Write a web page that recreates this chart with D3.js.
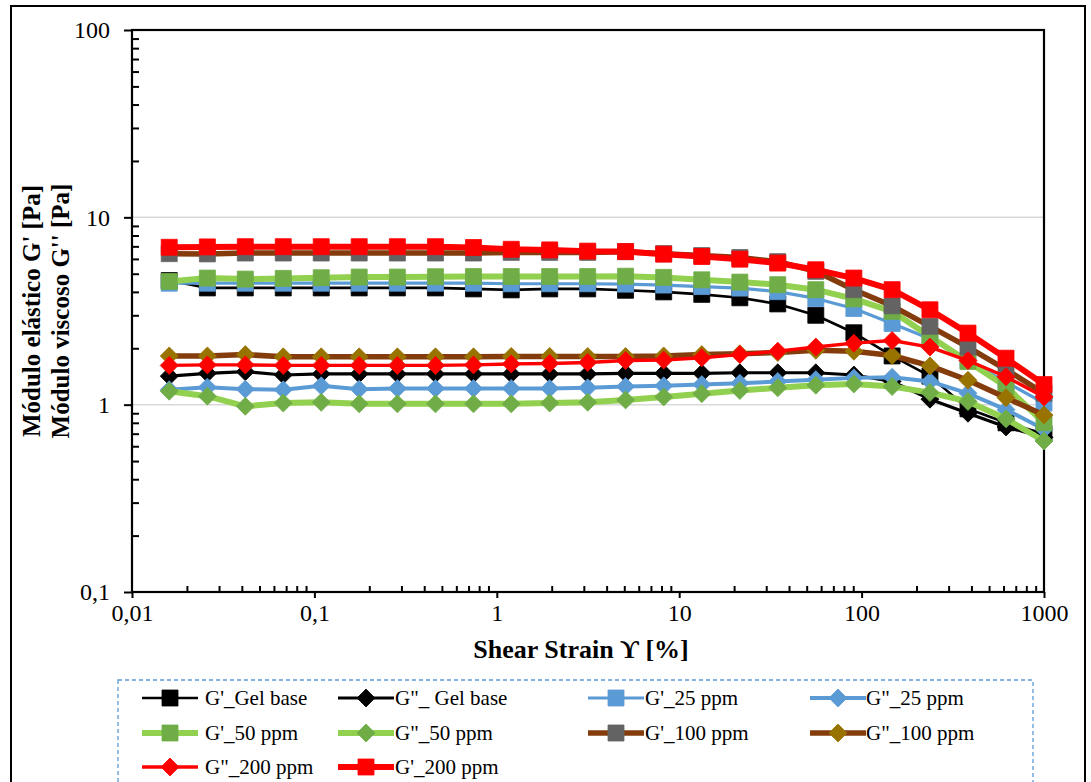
<!DOCTYPE html>
<html>
<head>
<meta charset="utf-8">
<script src="https://cdn.jsdelivr.net/npm/d3@7/dist/d3.min.js"></script>
<style>
  html, body { margin: 0; padding: 0; background: #fff; }
  svg { display: block; }
  text { font-family: "Liberation Serif", "Times New Roman", serif; fill: #000; }
</style>
</head>
<body>
<svg id="chart" width="1091" height="782"></svg>
<script>
// Shear strain sweep (%)
const strain = [0.016, 0.0259, 0.0418, 0.0675, 0.109, 0.176, 0.285, 0.461, 0.745, 1.2,
  1.95, 3.15, 5.08, 8.22, 13.3, 21.5, 34.7, 56.1, 90.7, 147, 237, 383, 619, 1000];

// Moduli (Pa)
const gpGel   = [4.6, 4.2, 4.2, 4.2, 4.2, 4.2, 4.2, 4.2, 4.15, 4.1, 4.15, 4.15,
  4.08, 4.0, 3.88, 3.72, 3.45, 3.0, 2.42, 1.82, 1.42, 0.95, 0.8, 0.7];
const gppGel  = [1.42, 1.47, 1.5, 1.44, 1.46, 1.46, 1.46, 1.46, 1.46, 1.46, 1.46, 1.46,
  1.47, 1.47, 1.47, 1.48, 1.48, 1.48, 1.44, 1.33, 1.07, 0.9, 0.76, 0.67];
const gp25    = [4.45, 4.45, 4.45, 4.45, 4.45, 4.45, 4.45, 4.45, 4.45, 4.42, 4.42, 4.42,
  4.4, 4.35, 4.27, 4.19, 4.01, 3.69, 3.26, 2.71, 2.25, 1.72, 1.32, 1.02];
const gpp25   = [1.2, 1.24, 1.21, 1.2, 1.26, 1.21, 1.22, 1.22, 1.22, 1.22, 1.22, 1.23,
  1.25, 1.26, 1.28, 1.3, 1.33, 1.36, 1.39, 1.4, 1.33, 1.15, 0.94, 0.74];
const gp50    = [4.55, 4.74, 4.68, 4.72, 4.76, 4.8, 4.8, 4.82, 4.83, 4.83, 4.83, 4.83,
  4.85, 4.78, 4.64, 4.51, 4.37, 4.11, 3.67, 3.15, 2.31, 1.7, 1.25, 0.8];
const gpp50   = [1.18, 1.11, 0.98, 1.02, 1.03, 1.01, 1.01, 1.01, 1.01, 1.01, 1.02, 1.03,
  1.06, 1.1, 1.145, 1.19, 1.23, 1.27, 1.29, 1.25, 1.16, 1.04, 0.84, 0.64];
const gp100   = [6.4, 6.38, 6.45, 6.45, 6.45, 6.45, 6.45, 6.45, 6.45, 6.5, 6.5, 6.5,
  6.55, 6.4, 6.25, 6.1, 5.8, 5.15, 4.11, 3.37, 2.62, 2.03, 1.54, 1.15];
const gpp100  = [1.82, 1.82, 1.85, 1.8, 1.8, 1.8, 1.8, 1.8, 1.8, 1.81, 1.81, 1.81,
  1.81, 1.82, 1.85, 1.87, 1.9, 1.95, 1.93, 1.83, 1.61, 1.35, 1.09, 0.88];
const gpp200  = [1.62, 1.63, 1.63, 1.62, 1.62, 1.62, 1.62, 1.62, 1.63, 1.65, 1.66, 1.68,
  1.72, 1.73, 1.78, 1.85, 1.93, 2.03, 2.13, 2.2, 2.03, 1.72, 1.41, 1.1];
const gp200   = [6.92, 6.95, 6.97, 6.97, 6.97, 6.97, 6.97, 6.97, 6.9, 6.75, 6.7, 6.6,
  6.57, 6.36, 6.18, 5.98, 5.7, 5.25, 4.74, 4.11, 3.21, 2.41, 1.77, 1.28];

const seriesNames = ["G'_Gel base", "G\"_ Gel base", "G'_25 ppm", "G\"_25 ppm",
  "G'_50 ppm", "G\"_50 ppm", "G'_100 ppm", "G\"_100 ppm", "G\"_200 ppm", "G'_200 ppm"];

const xTickValues = [0.01, 0.1, 1, 10, 100, 1000];
const xTickLabels = ["0,01", "0,1", "1", "10", "100", "1000"];
const yTickValues = [0.1, 1, 10, 100];
const yTickLabels = ["0,1", "1", "10", "100"];

// Series styling: line colour/width, marker shape/colour
const series = [
  { name: seriesNames[0], values: gpGel,  line: "#000000", lw: 2.6, shape: "square",  fill: "#000000" },
  { name: seriesNames[1], values: gppGel, line: "#000000", lw: 3.2, shape: "diamond", fill: "#000000" },
  { name: seriesNames[2], values: gp25,   line: "#5B9BD5", lw: 3.2, shape: "square",  fill: "#5B9BD5" },
  { name: seriesNames[3], values: gpp25,  line: "#5B9BD5", lw: 4,   shape: "diamond", fill: "#5B9BD5" },
  { name: seriesNames[4], values: gp50,   line: "#92D050", lw: 6,   shape: "square",  fill: "#70AD47" },
  { name: seriesNames[5], values: gpp50,  line: "#92D050", lw: 6,   shape: "diamond", fill: "#70AD47" },
  { name: seriesNames[6], values: gp100,  line: "#843C0C", lw: 5.5, shape: "square",  fill: "#636363" },
  { name: seriesNames[7], values: gpp100, line: "#843C0C", lw: 5.5, shape: "diamond", fill: "#997300" },
  { name: seriesNames[8], values: gpp200, line: "#FF0000", lw: 3.4, shape: "diamond", fill: "#FF0000" },
  { name: seriesNames[9], values: gp200,  line: "#FF0000", lw: 6,   shape: "square",  fill: "#FF0000" }
];

const svg = d3.select("#chart");
const plot = { left: 132, right: 1044, top: 30, bottom: 592 };

const x = d3.scaleLog().domain([0.01, 1000]).range([plot.left, plot.right]);
const y = d3.scaleLog().domain([0.1, 100]).range([plot.bottom, plot.top]);

// Outer chart frame
svg.append("rect")
  .attr("x", 11).attr("y", 6).attr("width", 1074).attr("height", 800)
  .attr("fill", "none").attr("stroke", "#000").attr("stroke-width", 2);

// Horizontal gridlines at the decades
svg.append("g").selectAll("line")
  .data([1, 10])
  .join("line")
  .attr("x1", plot.left).attr("x2", plot.right)
  .attr("y1", d => y(d)).attr("y2", d => y(d))
  .attr("stroke", "#D9D9D9").attr("stroke-width", 1.5);

// Minor tick values (2..9 within each decade)
const minorX = [];
for (let e = -2; e < 3; e++) for (let m = 2; m <= 9; m++) minorX.push(m * Math.pow(10, e));
const minorY = [];
for (let e = -1; e < 2; e++) for (let m = 2; m <= 9; m++) minorY.push(m * Math.pow(10, e));

// Y axis: major ticks outside, minor ticks inside
const yAxis = svg.append("g").attr("transform", `translate(${plot.left},0)`)
  .call(d3.axisLeft(y).tickValues(yTickValues).tickSizeInner(8).tickSizeOuter(0).tickPadding(14)
    .tickFormat((d, i) => yTickLabels[i]));
yAxis.select(".domain").remove();
yAxis.selectAll("line").attr("stroke-width", 2);
yAxis.selectAll("text").style("font-size", "24px").style("font-family", "Liberation Serif, serif");

const yMinor = svg.append("g").attr("transform", `translate(${plot.left},0)`)
  .call(d3.axisRight(y).tickValues(minorY).tickSize(7).tickFormat(""));
yMinor.select(".domain").remove();
yMinor.selectAll("line").attr("stroke-width", 2);

// X axis: major ticks below, minor ticks above
const xAxis = svg.append("g").attr("transform", `translate(0,${plot.bottom})`)
  .call(d3.axisBottom(x).tickValues(xTickValues).tickSizeInner(6).tickSizeOuter(0).tickPadding(6)
    .tickFormat((d, i) => xTickLabels[i]));
xAxis.select(".domain").remove();
xAxis.selectAll("line").attr("stroke-width", 2);
xAxis.selectAll("text").style("font-size", "24px").style("font-family", "Liberation Serif, serif");

const xMinor = svg.append("g").attr("transform", `translate(0,${plot.bottom})`)
  .call(d3.axisTop(x).tickValues(minorX).tickSize(6).tickFormat(""));
xMinor.select(".domain").remove();
xMinor.selectAll("line").attr("stroke-width", 2);

// Plot area border
svg.append("rect")
  .attr("x", plot.left).attr("y", plot.top)
  .attr("width", plot.right - plot.left).attr("height", plot.bottom - plot.top)
  .attr("fill", "none").attr("stroke", "#000").attr("stroke-width", 2.2);

// Marker paths
function markerPath(shape) {
  if (shape === "square") {
    const h = 8;
    return `M${-h},${-h}H${h}V${h}H${-h}Z`;
  }
  const r = 9;
  return `M0,${-r}L${r},0L0,${r}L${-r},0Z`;
}

const line = d3.line().x(d => x(d[0])).y(d => y(d[1]));

// Series drawn in legend order so later ones sit on top
series.forEach(s => {
  const pts = strain.map((v, i) => [v, s.values[i]]);
  const g = svg.append("g");
  g.append("path")
    .attr("d", line(pts))
    .attr("fill", "none")
    .attr("stroke", s.line)
    .attr("stroke-width", s.lw)
    .attr("stroke-linejoin", "round");
  g.selectAll("path.mk")
    .data(pts)
    .join("path")
    .attr("class", "mk")
    .attr("transform", d => `translate(${x(d[0])},${y(d[1])})`)
    .attr("d", markerPath(s.shape))
    .attr("fill", s.fill)
    .attr("stroke", s.fill)
    .attr("stroke-width", 0.8)
    .attr("stroke-linejoin", "round");
});

// Axis titles
svg.append("text")
  .attr("x", 581).attr("y", 658)
  .attr("text-anchor", "middle")
  .style("font-size", "26px").style("font-weight", "bold")
  .text("Shear Strain \u03D2 [%]");

const yTitle = svg.append("text")
  .attr("transform", "translate(0,311) rotate(-90)")
  .attr("text-anchor", "middle")
  .style("font-size", "25px").style("font-weight", "bold");
yTitle.append("tspan").attr("x", 0).attr("y", 40).text("Módulo elástico G' [Pa]");
yTitle.append("tspan").attr("x", 0).attr("y", 69).text("Módulo viscoso G'' [Pa]");

// Legend
svg.append("rect")
  .attr("x", 118).attr("y", 680).attr("width", 915).attr("height", 130)
  .attr("fill", "none").attr("stroke", "#5B9BD5").attr("stroke-width", 1.3)
  .attr("stroke-dasharray", "4,3");

const legLineStart = [142, 338, 588, 810];
const legTextX = [205, 395, 645, 866];
const legRowY = [698, 733, 767];
const legLen = 56;

series.forEach((s, i) => {
  const col = i % 4, row = Math.floor(i / 4);
  const x0 = legLineStart[col], cy = legRowY[row];
  const g = svg.append("g");
  g.append("line")
    .attr("x1", x0).attr("x2", x0 + legLen)
    .attr("y1", cy).attr("y2", cy)
    .attr("stroke", s.line).attr("stroke-width", s.lw);
  g.append("path")
    .attr("transform", `translate(${x0 + legLen / 2},${cy})`)
    .attr("d", markerPath(s.shape))
    .attr("fill", s.fill).attr("stroke", s.fill).attr("stroke-width", 0.8);
  g.append("text")
    .attr("x", legTextX[col]).attr("y", cy + 7)
    .style("font-size", "21px")
    .text(s.name);
});
</script>
</body>
</html>
